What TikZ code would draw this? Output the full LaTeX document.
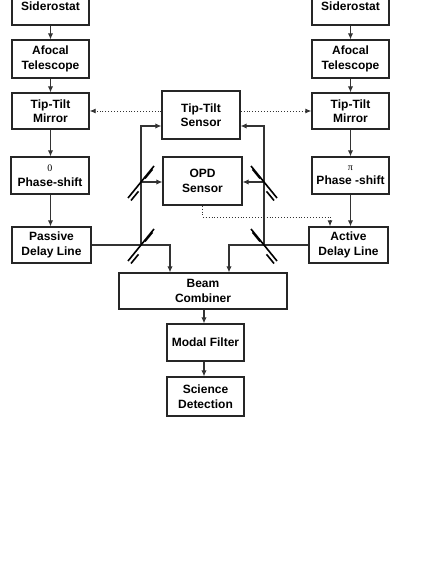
\documentclass[tikz,border=0pt]{standalone}
\usepackage{fontspec}
\setmainfont{Liberation Sans}
\newfontfamily\serifgr{Liberation Serif}
\usetikzlibrary{arrows.meta}
\begin{document}
\begin{tikzpicture}[x=1pt,y=-1pt,
  blk/.style={draw=black!85,line width=1.4pt,fill=white,align=center,
    font=\fontsize{12}{14.5}\selectfont\bfseries,inner sep=0pt},
  conn/.style={draw=black!80,line width=1.1pt,-{Latex[length=6pt,width=5.5pt]}},
  dconn/.style={draw=black!80,line width=0.9pt,dotted,-{Latex[length=6pt,width=5pt]}},
  bsplit/.pic={
    \draw[line width=1.6pt,black] (-13,16)--(13,-16);
    \draw[line width=1.6pt,black] (-10,18.5)--(-2.5,9.3);
    \draw[line width=1.6pt,black] (4,-3.5)--(11.5,-12.7);
  }]
\useasboundingbox (0,0) rectangle (436,564);
% boxes
\node[blk,minimum width=77pt,minimum height=37pt] (sidL) at (50.5,6.5) {Siderostat};
\node[blk,minimum width=77pt,minimum height=38pt] (afoL) at (50.5,59) {Afocal\\Telescope};
\node[blk,minimum width=77pt,minimum height=36pt] (ttmL) at (50.5,111) {Tip-Tilt\\Mirror};
\node[blk,minimum width=78pt,minimum height=37pt] (psL) at (50,175.5) {{\serifgr\mdseries\fontsize{10}{12}\selectfont 0}\\Phase-shift};
\node[blk,minimum width=79pt,minimum height=36pt] (pdl) at (51.5,245) {Passive\\Delay Line};
\node[blk,minimum width=77pt,minimum height=37pt] (sidR) at (350.5,6.5) {Siderostat};
\node[blk,minimum width=77pt,minimum height=38pt] (afoR) at (350.5,59) {Afocal\\Telescope};
\node[blk,minimum width=77pt,minimum height=36pt] (ttmR) at (350.5,111) {Tip-Tilt\\Mirror};
\node[blk,minimum width=77pt,minimum height=37pt] (psR) at (350.5,175.5) {{\serifgr\mdseries\fontsize{10}{12}\selectfont π}\\Phase -shift};
\node[blk,minimum width=79pt,minimum height=36pt] (adl) at (348.5,245) {Active\\Delay Line};
\node[blk,minimum width=78pt,minimum height=48pt] (tts) at (201,115) {Tip-Tilt\\Sensor};
\node[blk,minimum width=79pt,minimum height=48pt] (opd) at (202.5,181) {OPD\\Sensor};
\node[blk,minimum width=168pt,minimum height=36pt] (bc) at (203,291) {Beam\\Combiner};
\node[blk,minimum width=77pt,minimum height=37pt] (mf) at (205.5,342.5) {Modal Filter};
\node[blk,minimum width=77pt,minimum height=39pt] (sd) at (205.5,396.5) {Science\\Detection};
% coordinates
\coordinate (mL1) at (141,182);
\coordinate (mL2) at (141,245);
\coordinate (mR1) at (264,182);
\coordinate (mR2) at (264,245);
\coordinate (tL) at (141,126);
\coordinate (tR) at (264,126);
\coordinate (bL) at (170,245);
\coordinate (bR) at (229,245);
\coordinate (dA) at (330,217);
% column arrows
\draw[conn] (sidL.south) -- (afoL.north);
\draw[conn] (afoL.south) -- (ttmL.north);
\draw[conn] (ttmL.south) -- (psL.north -| ttmL.south);
\draw[conn] (psL.south -| ttmL.south) -- (pdl.north -| ttmL.south);
\draw[conn] (sidR.south) -- (afoR.north);
\draw[conn] (afoR.south) -- (ttmR.north);
\draw[conn] (ttmR.south) -- (psR.north);
\draw[conn] (psR.south) -- (adl.north -| psR.south);
\draw[conn] (bc.south -| 204,0) -- (mf.north -| 204,0);
\draw[conn] (mf.south -| 204,0) -- (sd.north -| 204,0);
% beam paths
\draw[conn] (mL2) -- (tL) -- (tts.west |- tL);
\draw[conn] (mR2) -- (tR) -- (tts.east |- tR);
\draw[conn] (mL1) -- (opd.west |- mL1);
\draw[conn] (mR1) -- (opd.east |- mR1);
\draw[conn] (pdl.east) -- (bL) -- (bL |- bc.north);
\draw[conn] (adl.west) -- (bR) -- (bR |- bc.north);
% dotted control lines
\draw[dconn] (tts.west |- ttmL.east) -- (ttmL.east);
\draw[dconn] (tts.east |- ttmR.west) -- (ttmR.west);
\draw[dconn] (opd.south) |- (dA) -- (dA |- adl.north);
% beam splitters
\pic at (mL1) {bsplit};
\pic at (mL2) {bsplit};
\pic[xscale=-1] at (mR1) {bsplit};
\pic[xscale=-1] at (mR2) {bsplit};
\end{tikzpicture}
\end{document}
